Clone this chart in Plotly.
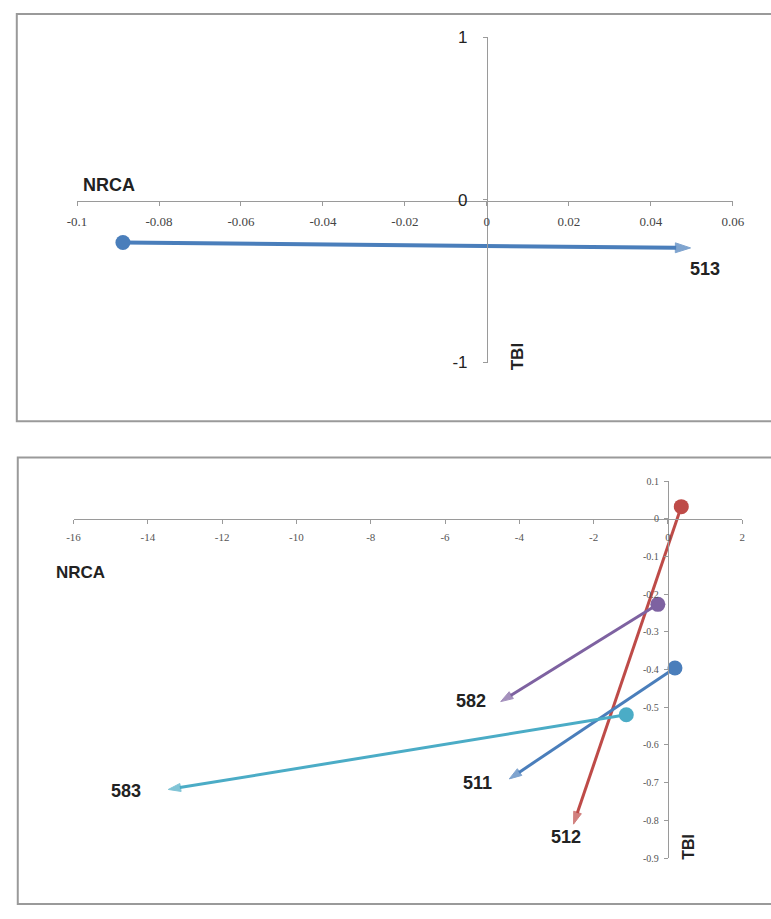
import plotly.graph_objects as go

W, H = 771, 919

# ---------------- data ----------------
top_names = ["513"]
top_x = [[-0.0888, 0.0497]]
top_y = [[-0.262, -0.295]]
top_xticks = [-0.1, -0.08, -0.06, -0.04, -0.02, 0, 0.02, 0.04, 0.06]
top_xticklabels = ["-0.1", "-0.08", "-0.06", "-0.04", "-0.02", "0", "0.02", "0.04", "0.06"]
top_yticks = [-1, 0, 1]
top_yticklabels = ["-1", "0", "1"]

bot_names = ["512", "582", "511", "583"]
bot_x = [[0.36, -2.54], [-0.27, -4.5], [0.19, -4.27], [-1.12, -13.45]]
bot_y = [[0.032, -0.81], [-0.227, -0.485], [-0.396, -0.69], [-0.52, -0.718]]
bot_xticks = [-16, -14, -12, -10, -8, -6, -4, -2, 0, 2]
bot_xticklabels = ["-16", "-14", "-12", "-10", "-8", "-6", "-4", "-2", "0", "2"]
bot_yticks = [0.1, 0, -0.1, -0.2, -0.3, -0.4, -0.5, -0.6, -0.7, -0.8, -0.9]
bot_yticklabels = ["0.1", "0", "-0.1", "-0.2", "-0.3", "-0.4", "-0.5", "-0.6", "-0.7", "-0.8", "-0.9"]

# ---------------- styles ----------------
top_colors = ["#4A7EBB"]
bot_colors = ["#BE4B48", "#7E62A1", "#4A7EBB", "#4BACC6"]
top_label_shift = [(14, -21)]
bot_label_shift = [(-8, -13), (-30, 1), (-32, -4), (-42, -2)]

LBL_FONT = "Liberation Sans, Arial, sans-serif"
TICK_FONT = "Liberation Serif, Times New Roman, serif"


def px_x(p):
    return p / W


def px_y(p):
    return 1 - p / H


fig = go.Figure()


def add_arrow(xs, ys, c, xa, ya, lw, arrow_size, dot_size):
    fig.add_trace(go.Scatter(
        x=xs, y=ys, mode="lines+markers", xaxis=xa, yaxis=ya,
        line=dict(color=c, width=lw),
        marker=dict(symbol="arrow", size=[0, arrow_size], color=c,
                    angleref="previous", line=dict(width=1, color=c)),
        showlegend=False, hoverinfo="skip"))
    fig.add_trace(go.Scatter(
        x=xs[:1], y=ys[:1], mode="markers", xaxis=xa, yaxis=ya,
        marker=dict(symbol="circle", size=dot_size, color=c, line=dict(width=0)),
        showlegend=False, hoverinfo="skip"))


for xs, ys, c in zip(top_x, top_y, top_colors):
    add_arrow(xs, ys, c, "x", "y", 4, 16, 15)
for xs, ys, c in zip(bot_x, bot_y, bot_colors):
    add_arrow(xs, ys, c, "x2", "y2", 3, 13, 15)

annotations = []
for name, xs, ys, (dx, dy) in zip(top_names, top_x, top_y, top_label_shift):
    annotations.append(dict(x=xs[-1], y=ys[-1], xref="x", yref="y", text="<b>%s</b>" % name,
                            showarrow=False, xshift=dx, yshift=dy,
                            font=dict(family=LBL_FONT, size=18, color="#222")))
for name, xs, ys, (dx, dy) in zip(bot_names, bot_x, bot_y, bot_label_shift):
    annotations.append(dict(x=xs[-1], y=ys[-1], xref="x2", yref="y2", text="<b>%s</b>" % name,
                            showarrow=False, xshift=dx, yshift=dy,
                            font=dict(family=LBL_FONT, size=18, color="#222")))

annotations += [
    dict(x=-0.0922, y=0.09, xref="x", yref="y", text="<b>NRCA</b>", showarrow=False,
         font=dict(family=LBL_FONT, size=18, color="#222")),
    dict(x=0.0075, y=-0.964, xref="x", yref="y", text="<b>TBI</b>", showarrow=False, textangle=-90,
         font=dict(family=LBL_FONT, size=17, color="#222")),
    dict(x=-15.8, y=-0.142, xref="x2", yref="y2", text="<b>NRCA</b>", showarrow=False,
         font=dict(family=LBL_FONT, size=17, color="#222")),
    dict(x=0.55, y=-0.869, xref="x2", yref="y2", text="<b>TBI</b>", showarrow=False, textangle=-90,
         font=dict(family=LBL_FONT, size=16, color="#222")),
]

shapes = [
    dict(type="rect", xref="paper", yref="paper", x0=px_x(7), x1=px_x(790), y0=px_y(421), y1=px_y(5),
         line=dict(color="#9A9A9A", width=2), layer="below"),
    dict(type="rect", xref="paper", yref="paper", x0=px_x(8), x1=px_x(790), y0=px_y(914), y1=px_y(458),
         line=dict(color="#9A9A9A", width=2), layer="below"),
]

axcommon = dict(showgrid=False, zeroline=False, showline=True, linecolor="#9A9A9A", linewidth=1,
                ticks="outside", ticklen=4, tickcolor="#9A9A9A", tickwidth=1, tickmode="array")

top_x_dom = [px_x(69), px_x(744)]
top_y_dom = [px_y(361), px_y(29)]
top_x0_pos = px_x(491)
top_y0_pos = px_y(196)
bot_x_dom = [px_x(65.4), px_x(753.7)]
bot_y_dom = [px_y(867), px_y(482)]
bot_x0_pos = px_x(677.2)
bot_y0_pos = px_y(520.5)

fig.update_layout(
    width=W, height=H, margin=dict(l=0, r=0, t=0, b=0),
    paper_bgcolor="white", plot_bgcolor="rgba(0,0,0,0)",
    xaxis=dict(axcommon, domain=top_x_dom, range=[-0.1, 0.06], anchor="free", position=top_y0_pos,
               tickvals=top_xticks, ticktext=top_xticklabels, ticklabelstandoff=4,
               tickfont=dict(family=TICK_FONT, size=13, color="#444")),
    yaxis=dict(axcommon, domain=top_y_dom, range=[-1, 1], anchor="free", position=top_x0_pos,
               tickvals=top_yticks, ticktext=top_yticklabels, ticklabelstandoff=12,
               tickfont=dict(family=LBL_FONT, size=17, color="#222")),
    xaxis2=dict(axcommon, domain=bot_x_dom, range=[-16, 2], anchor="free", position=bot_y0_pos,
                tickvals=bot_xticks, ticktext=bot_xticklabels, ticklabelstandoff=4,
                tickfont=dict(family=TICK_FONT, size=11, color="#555")),
    yaxis2=dict(axcommon, domain=bot_y_dom, range=[-0.9, 0.1], anchor="free", position=bot_x0_pos,
                tickvals=bot_yticks, ticktext=bot_yticklabels, ticklabelstandoff=3,
                tickfont=dict(family=TICK_FONT, size=10, color="#555")),
    annotations=annotations, shapes=shapes,
)

fig.write_html("out.html", config={"displayModeBar": False},
               post_script="document.body.style.margin='0';document.body.style.overflow='hidden';")
